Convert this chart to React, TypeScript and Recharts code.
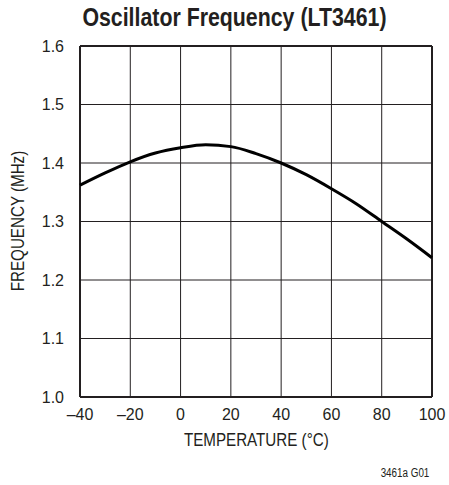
import React from 'react';
import {
  LineChart,
  Line,
  XAxis,
  YAxis,
  CartesianGrid,
  ReferenceLine
} from 'recharts';

// Temperature (°C) and oscillator frequency (MHz)
const temperature = [-40, -30, -20, -10, 0, 10, 20, 30, 40, 50, 60, 70, 80, 90, 100];
const frequency = [1.362, 1.383, 1.402, 1.417, 1.426, 1.431, 1.428, 1.416, 1.4, 1.38, 1.356, 1.33, 1.3, 1.27, 1.238];

const xTicks = [-40, -20, 0, 20, 40, 60, 80, 100];
const yTicks = [1.0, 1.1, 1.2, 1.3, 1.4, 1.5, 1.6];

const chartData = temperature.map((t, i) => ({ temp: t, freq: frequency[i] }));

const font = 'Arial, Liberation Sans, sans-serif';
const ink = '#231f20';

// condensed look: squeeze a regular sans horizontally
const squeeze = (scale: number): React.CSSProperties => ({
  display: 'inline-block',
  transform: `scaleX(${scale})`,
  transformOrigin: 'center'
});

const App: React.FC = () => {
  return (
    <div style={{ position: 'absolute', left: 0, top: 0, width: 449, height: 485, background: '#fff' }}>
      {/* Title */}
      <div
        style={{
          position: 'absolute',
          left: 0,
          width: 468,
          top: 0,
          textAlign: 'center',
          fontFamily: font,
          fontWeight: 'bold',
          fontSize: 26,
          lineHeight: '34px',
          color: ink,
          whiteSpace: 'nowrap'
        }}
      >
        <span style={squeeze(0.82)}>Oscillator Frequency (LT3461)</span>
      </div>

      <LineChart
        width={449}
        height={485}
        data={chartData}
        margin={{ top: 46, right: 17, bottom: 58, left: 0 }}
      >
        <CartesianGrid stroke={ink} strokeWidth={1} horizontalValues={yTicks} verticalValues={xTicks} />
        <XAxis
          dataKey="temp"
          type="number"
          domain={[-40, 100]}
          ticks={xTicks}
          tickFormatter={(v: number) => String(v).replace('-', '\u2013')}
          axisLine={false}
          tickLine={false}
          height={30}
          tickMargin={6}
          tick={{ fill: ink, fontSize: 16, fontFamily: font }}
          interval={0}
        />
        <YAxis
          type="number"
          domain={[1.0, 1.6]}
          ticks={yTicks}
          tickFormatter={(v: number) => v.toFixed(1)}
          axisLine={false}
          tickLine={false}
          width={80}
          tickMargin={10}
          tick={{ fill: ink, fontSize: 16, fontFamily: font }}
          interval={0}
        />
        <ReferenceLine x={-40} stroke={ink} strokeWidth={2} />
        <ReferenceLine x={100} stroke={ink} strokeWidth={2} />
        <ReferenceLine y={1.0} stroke={ink} strokeWidth={2} />
        <ReferenceLine y={1.6} stroke={ink} strokeWidth={2} />
        <Line
          type="monotone"
          dataKey="freq"
          stroke="#000"
          strokeWidth={3}
          dot={false}
          isAnimationActive={false}
        />
      </LineChart>

      {/* Axis titles */}
      <div
        style={{
          position: 'absolute',
          left: 80,
          width: 352,
          top: 428,
          textAlign: 'center',
          fontFamily: font,
          fontSize: 18.5,
          lineHeight: '24px',
          color: ink,
          whiteSpace: 'nowrap'
        }}
      >
        <span style={squeeze(0.82)}>TEMPERATURE (°C)</span>
      </div>
      <div
        style={{
          position: 'absolute',
          left: 18,
          top: 221,
          transform: 'translate(-50%, -50%) rotate(-90deg) scaleX(0.82)',
          whiteSpace: 'nowrap',
          fontFamily: font,
          fontSize: 18.5,
          lineHeight: '20px',
          color: ink
        }}
      >
        FREQUENCY (MHz)
      </div>
      <div
        style={{
          position: 'absolute',
          left: 405,
          top: 466,
          transform: 'translateX(-50%) scaleX(0.82)',
          whiteSpace: 'nowrap',
          fontFamily: font,
          fontSize: 12,
          lineHeight: '14px',
          color: ink
        }}
      >
        3461a G01
      </div>
    </div>
  );
};

export default App;
